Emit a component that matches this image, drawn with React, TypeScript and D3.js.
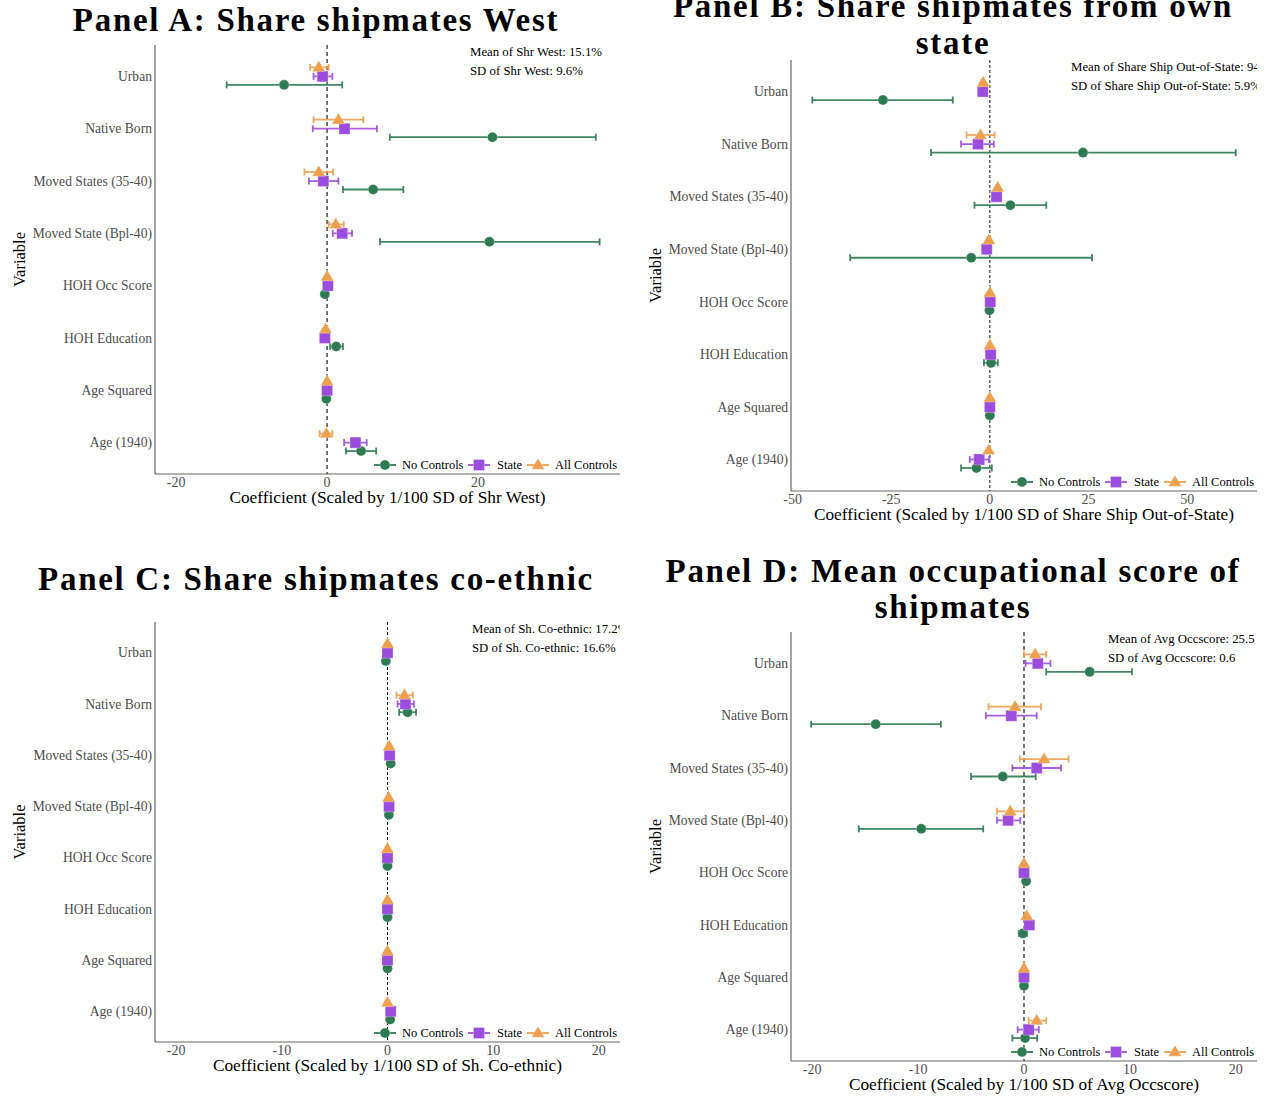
import React from "react";
import * as d3 from "d3";

const categories = [
  "Urban",
  "Native Born",
  "Moved States (35-40)",
  "Moved State (Bpl-40)",
  "HOH Occ Score",
  "HOH Education",
  "Age Squared",
  "Age (1940)",
];

const models = ["No Controls", "State", "All Controls"];
const modelColors: Record<string, string> = {
  "No Controls": "#2e7a52",
  State: "#9d4ddd",
  "All Controls": "#eda04d",
};

// [estimate, low, high] per category, in category order
const westNone = [[-5.7, -13.3, 2.0], [21.9, 8.3, 35.6], [6.1, 2.1, 10.1], [21.5, 7.0, 36.1], [-0.3, -0.5, -0.1], [1.2, 0.4, 2.1], [-0.1, -0.3, 0.1], [4.5, 2.5, 6.5]];
const westState = [[-0.6, -1.8, 0.7], [2.3, -1.9, 6.6], [-0.5, -2.4, 1.5], [2.0, 0.75, 3.3], [0.1, 0, 0.2], [-0.3, -0.4, -0.2], [0, -0.1, 0.1], [3.75, 2.25, 5.25]];
const westAll = [[-1.1, -2.25, 0.2], [1.5, -1.8, 4.8], [-1.1, -3.0, 0.8], [1.15, 0.2, 2.2], [0, -0.1, 0.1], [-0.2, -0.3, -0.1], [0, -0.1, 0.1], [-0.1, -1.0, 0.7]];

const ownNone = [[-27.1, -45.0, -9.4], [23.6, -14.9, 62.3], [5.2, -3.9, 14.3], [-4.7, -35.4, 25.9], [-0.1, -0.3, 0.1], [0.3, -1.5, 2.0], [0, -0.2, 0.2], [-3.4, -7.3, 0.5]];
const ownState = [[-1.8, -2.2, -1.4], [-3.0, -7.3, 1.0], [1.7, 1.3, 2.1], [-0.8, -1.2, -0.4], [0.1, 0, 0.2], [0.2, 0.1, 0.3], [0, -0.1, 0.1], [-2.7, -5.1, -0.2]];
const ownAll = [[-1.7, -2.1, -1.3], [-2.4, -5.9, 1.2], [2.0, 1.6, 2.4], [-0.25, -0.6, 0.1], [0, -0.1, 0.1], [0, -0.1, 0.1], [0, -0.1, 0.1], [-0.3, -0.6, 0]];

const ethNone = [[-0.15, -0.3, 0], [1.9, 1.1, 2.7], [0.3, 0.1, 0.5], [0.13, 0, 0.26], [0, -0.05, 0.05], [0, -0.05, 0.05], [0, -0.05, 0.05], [0.25, 0.1, 0.4]];
const ethState = [[0, -0.05, 0.05], [1.7, 0.95, 2.5], [0.2, 0.05, 0.35], [0.15, 0.05, 0.25], [0, -0.05, 0.05], [0, -0.05, 0.05], [0, -0.05, 0.05], [0.3, 0.2, 0.4]];
const ethAll = [[0, -0.05, 0.05], [1.6, 0.85, 2.4], [0.15, 0, 0.3], [0.1, 0, 0.2], [0, -0.05, 0.05], [0, -0.05, 0.05], [0, -0.05, 0.05], [0, -0.05, 0.05]];

const occNone = [[6.2, 2.1, 10.2], [-14.0, -20.1, -7.85], [-2.0, -5.0, 1.1], [-9.7, -15.6, -3.85], [0.2, 0.1, 0.3], [-0.1, -0.5, 0.3], [0, -0.1, 0.1], [0.1, -1.1, 1.25]];
const occState = [[1.3, 0.15, 2.5], [-1.2, -3.6, 1.2], [1.2, -1.1, 3.5], [-1.5, -2.55, -0.35], [0, -0.1, 0.1], [0.5, 0.4, 0.6], [0, -0.1, 0.1], [0.45, -0.6, 1.4]];
const occAll = [[1.05, 0, 2.1], [-0.85, -3.35, 1.6], [1.9, -0.4, 4.2], [-1.3, -2.55, 0], [0, -0.1, 0.1], [0.25, 0.15, 0.35], [0, -0.1, 0.1], [1.2, 0.45, 2.1]];

const westTicks = [-20, 0, 20];
const ownTicks = [-50, -25, 0, 25, 50];
const symTicks = [-20, -10, 0, 10, 20];

const serif = "'Liberation Serif', 'Times New Roman', serif";

const panels = [
  {
    id: "a", title: ["Panel A: Share shipmates West"], titleY: [31], titleX: 316,
    box: { left: 155, right: 620, top: 45, bottom: 474 }, yLabX: 20,
    domain: [-22.8, 38.8], ticks: westTicks,
    notes: ["Mean of Shr West: 15.1%", "SD of Shr West: 9.6%"], noteX: 470,
    xLabel: "Coefficient (Scaled by 1/100 SD of Shr West)",
    series: { "No Controls": westNone, State: westState, "All Controls": westAll },
    zeroStyle: { stroke: "#555", width: 1.6, dash: "4 3" },
  },
  {
    id: "b", title: ["Panel B: Share shipmates from own", "state"], titleY: [17, 54], titleX: 953,
    box: { left: 791, right: 1257, top: 60, bottom: 491 }, yLabX: 656,
    domain: [-50.4, 67.7], ticks: ownTicks,
    notes: ["Mean of Share Ship Out-of-State: 94.1%", "SD of Share Ship Out-of-State: 5.9%"], noteX: 1071,
    xLabel: "Coefficient (Scaled by 1/100 SD of Share Ship Out-of-State)",
    series: { "No Controls": ownNone, State: ownState, "All Controls": ownAll },
    zeroStyle: { stroke: "#111", width: 1, dash: "3 2" },
  },
  {
    id: "c", title: ["Panel C: Share shipmates co-ethnic"], titleY: [590], titleX: 316,
    box: { left: 155, right: 620, top: 622, bottom: 1042 }, yLabX: 20,
    domain: [-22, 22], ticks: symTicks,
    notes: ["Mean of Sh. Co-ethnic: 17.2%", "SD of Sh. Co-ethnic: 16.6%"], noteX: 472,
    xLabel: "Coefficient (Scaled by 1/100 SD of Sh. Co-ethnic)",
    series: { "No Controls": ethNone, State: ethState, "All Controls": ethAll },
    zeroStyle: { stroke: "#111", width: 1, dash: "3 2" },
  },
  {
    id: "d", title: ["Panel D: Mean occupational score of", "shipmates"], titleY: [582, 618], titleX: 953,
    box: { left: 791, right: 1257, top: 632, bottom: 1061 }, yLabX: 656,
    domain: [-22, 22], ticks: symTicks,
    notes: ["Mean of Avg Occscore: 25.5", "SD of Avg Occscore: 0.6"], noteX: 1108,
    xLabel: "Coefficient (Scaled by 1/100 SD of Avg Occscore)",
    series: { "No Controls": occNone, State: occState, "All Controls": occAll },
    zeroStyle: { stroke: "#555", width: 1.6, dash: "4 3" },
  },
];

// vertical dodge per model, as fraction of row step
const dodge: Record<string, number> = { "No Controls": 0.162, State: 0, "All Controls": -0.172 };

function Marker({ model, x, y }: { model: string; x: number; y: number }) {
  const c = modelColors[model];
  if (model === "No Controls") return <circle cx={x} cy={y} r={5} fill={c} stroke="#fff" strokeOpacity={0.35} strokeWidth={0.8} />;
  if (model === "State") return <rect x={x - 5.5} y={y - 5.5} width={11} height={11} fill={c} stroke="#fff" strokeOpacity={0.35} strokeWidth={0.8} />;
  const h = 11, w = 13;
  return (
    <path
      d={`M${x},${y - h * 0.62}L${x + w / 2},${y + h * 0.38}L${x - w / 2},${y + h * 0.38}Z`}
      fill={c} stroke="#fff" strokeOpacity={0.35} strokeWidth={0.8}
    />
  );
}

function Panel({ p }: { p: (typeof panels)[number] }) {
  const { box } = p;
  const x = d3.scaleLinear().domain(p.domain).range([box.left, box.right]);
  const y = d3.scalePoint<string>().domain(categories).range([box.top, box.bottom]).padding(0.6);
  const step = y.step();
  const clipId = `clip-${p.id}`;
  const legendY = box.bottom - 9;
  const legend = [
    { m: "No Controls", k: 235, t: 218 },
    { m: "State", k: 141, t: 123 },
    { m: "All Controls", k: 82, t: 65 },
  ];
  return (
    <g>
      <defs>
        <clipPath id={clipId}>
          <rect x={box.left} y={box.top - 20} width={box.right - box.left} height={box.bottom - box.top + 20} />
        </clipPath>
      </defs>
      {p.title.map((t, i) => (
        <text key={t} x={p.titleX} y={p.titleY[i]} textAnchor="middle" fontFamily={serif} fontWeight="bold" fontSize={33} letterSpacing={1.7} fill="#000">
          {t}
        </text>
      ))}
      <g clipPath={`url(#${clipId})`}>
        {p.notes.map((t, i) => (
          <text key={t} x={p.noteX} y={box.top + 11 + i * 19} fontFamily={serif} fontSize={12.8} fill="#000">
            {t}
          </text>
        ))}
        <line x1={x(0)} x2={x(0)} y1={box.top} y2={box.bottom} stroke={p.zeroStyle.stroke} strokeWidth={p.zeroStyle.width} strokeDasharray={p.zeroStyle.dash} />
        {models.map((m) =>
          (p.series as Record<string, number[][]>)[m].map((d, i) => {
            const cy = (y(categories[i]) as number) + dodge[m] * step;
            return (
              <g key={`${m}-${i}`} stroke={modelColors[m]} strokeWidth={1.8} strokeOpacity={0.9}>
                <line x1={x(d[1])} x2={x(d[2])} y1={cy} y2={cy} />
                <line x1={x(d[1])} x2={x(d[1])} y1={cy - 3.5} y2={cy + 3.5} />
                <line x1={x(d[2])} x2={x(d[2])} y1={cy - 3.5} y2={cy + 3.5} />
              </g>
            );
          })
        )}
        {models.map((m) =>
          (p.series as Record<string, number[][]>)[m].map((d, i) => (
            <Marker key={`p-${m}-${i}`} model={m} x={x(d[0])} y={(y(categories[i]) as number) + dodge[m] * step} />
          ))
        )}
      </g>
      <line x1={box.left} x2={box.left} y1={box.top} y2={box.bottom} stroke="#666" strokeWidth={1.2} />
      <line x1={box.left} x2={box.right} y1={box.bottom} y2={box.bottom} stroke="#666" strokeWidth={1.2} />
      {categories.map((c) => (
        <text key={c} x={box.left - 3} y={y(c)} dy="0.35em" textAnchor="end" fontFamily={serif} fontSize={13.6} fill="#4d4d4d">
          {c}
        </text>
      ))}
      {p.ticks.map((t) => (
        <text key={t} x={x(t)} y={box.bottom + 13} textAnchor="middle" fontFamily={serif} fontSize={14} fill="#4d4d4d">
          {t}
        </text>
      ))}
      <text x={(box.left + box.right) / 2} y={box.bottom + 28.5} textAnchor="middle" fontFamily={serif} fontSize={17.3} fill="#000">
        {p.xLabel}
      </text>
      <text transform={`translate(${p.yLabX + 5},${(box.top + box.bottom) / 2}) rotate(-90)`} textAnchor="middle" fontFamily={serif} fontSize={16.5} fill="#000">
        Variable
      </text>
      {legend.map((l) => (
        <g key={l.m}>
          <line x1={box.right - l.k - 11} x2={box.right - l.k + 11} y1={legendY} y2={legendY} stroke={modelColors[l.m]} strokeWidth={1.8} />
          <Marker model={l.m} x={box.right - l.k} y={legendY} />
          <text x={box.right - l.t} y={legendY} dy="0.35em" fontFamily={serif} fontSize={12.5} fill="#000">
            {l.m}
          </text>
        </g>
      ))}
    </g>
  );
}

export default function App() {
  return (
    <svg width={1267} height={1097} style={{ position: "absolute", left: 0, top: 0, background: "#fff" }}>
      <rect width={1267} height={1097} fill="#fff" />
      {panels.map((p) => (
        <Panel key={p.id} p={p} />
      ))}
    </svg>
  );
}
